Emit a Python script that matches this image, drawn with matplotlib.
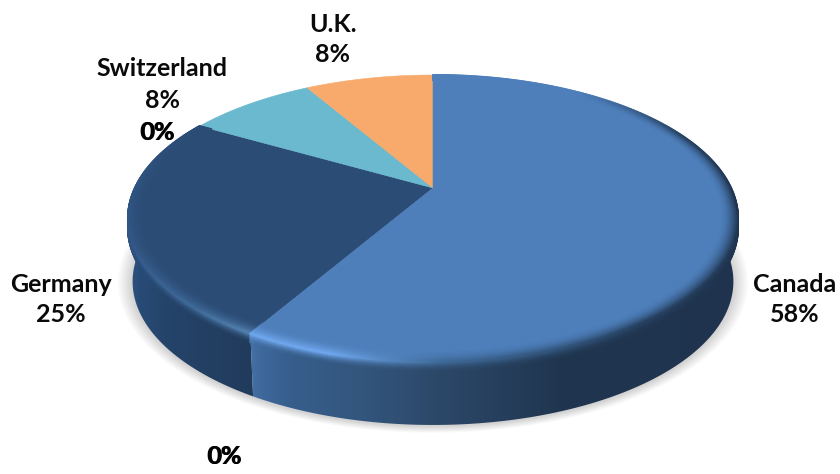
import numpy as np
import matplotlib
matplotlib.use('Agg')
import matplotlib.pyplot as plt
from matplotlib.collections import LineCollection
from matplotlib.colors import to_rgb
from matplotlib.patches import Polygon

plt.rcParams['font.family'] = ['Lato', 'DejaVu Sans']

# chart values
countries = ['Canada', 'Germany', 'Switzerland', 'U.K.']
shares = [58.33, 25.0, 8.33, 8.33]
empty_shares = [0, 0]

# slice styles
top_colors = ['#4e7fbb', '#2b4c75', '#6bb9ce', '#f7aa6c']

# pie projection, in pixels
CX, APEX_Y = 433, 188
R_X, R_Y, TILT = 298, 137, 0.2125
DEPTH, SHRINK = 63, 0.985


def rim(theta, r=1.0):
    # theta in degrees clockwise from 12 o'clock
    t = np.radians(theta)
    u, v = r * np.sin(t), r * np.cos(t)
    w = 1 + TILT * v
    return CX + R_X * u / w, APEX_Y - R_Y * v / w


def lower_rim(theta):
    x, y = rim(theta)
    return CX + (x - CX) * SHRINK, y + DEPTH


def mix(a, b, w):
    return a * (1 - w)[:, None] + b * w[:, None]


def hexes(cols):
    return np.array([to_rgb(c) for c in cols])


def interp_rgb(x, xs, cols):
    c = hexes(cols)
    return np.column_stack([np.interp(x, xs, c[:, i]) for i in range(3)])


# side wall shading runs left to right
wall_x = {
    0: ([250, 258, 290, 360, 450, 560, 740],
        ['#4572a8', '#3f6a9e', '#375e8c', '#33567d', '#2b4666', '#203650', '#1f334e']),
    1: ([128, 140, 165, 250, 258],
        ['#2f5586', '#284b76', '#25446a', '#213b5c', '#213a5a']),
}


def wall_rgb(i, x):
    return interp_rgb(x, *wall_x[i])


fig = plt.figure(figsize=(8.4, 4.74), dpi=100)
ax = fig.add_axes([0, 0, 1, 1])

ends = np.cumsum(shares) / np.sum(shares) * 360
starts = np.r_[0, ends[:-1]]

# soft ground shadow
th_all = np.linspace(0, 360, 361)
lx, ly = lower_rim(th_all)
for e in np.arange(1, 16, 1.0):
    sc = 1 + e / 300
    ax.add_patch(Polygon(np.column_stack([CX + (lx - CX) * sc, 285 + (ly - 285) * sc + 1]),
                         fc='k', ec='none', alpha=0.012, zorder=1))

# side walls of the two front slices
for i in (1, 0):
    th = np.linspace(starts[i], ends[i], 300)
    tx, ty = rim(th)
    bx, by = lower_rim(th)
    pts = np.column_stack([np.r_[tx, bx[::-1]], np.r_[ty, by[::-1]]])
    clip = Polygon(pts, fc='none', ec='none', transform=ax.transData)
    ax.add_patch(clip)
    xs = np.arange(840) + 0.5
    im = ax.imshow(wall_rgb(i, xs)[None, :, :], extent=(0, 840, 474, 0), aspect='auto',
                   interpolation='bilinear', zorder=2)
    im.set_clip_path(clip)

# top faces
for i in (1, 2, 3, 0):
    th = np.linspace(starts[i], ends[i], 300)
    x, y = rim(th)
    ax.add_patch(Polygon(np.column_stack([np.r_[CX, x], np.r_[APEX_Y, y]]),
                         fc=top_colors[i], ec=top_colors[i], lw=0.4, zorder=3))

# rounded bevel along the front rim: colour and strength by angle
bevel = {
    0: ([0, 35, 65, 95, 145, 178, 196, ends[0]],
        ['#1f3550', '#1f3550', '#1f3550', '#1f3550', '#26405f', '#3d6794', '#6ea6ec', '#6ea6ec'],
        [0, 0, 0.8, 1, 1, 1, 1, 1]),
    1: ([ends[0], 222, 250, 275, 292, ends[1]],
        ['#5480b0', '#3f6a99', '#34598a', '#33598a', '#2e5282', '#2b4c75'],
        [1, 1, 0.8, 0.5, 0.2, 0]),
}
for i in (1, 0):
    th = np.linspace(starts[i], ends[i], 500)
    mids = 0.5 * (th[:-1] + th[1:])
    bth, bcol, bw = bevel[i]
    edge = interp_rgb(mids, bth, bcol)
    strength = np.interp(mids, bth, bw)
    face = np.tile(np.array(to_rgb(top_colors[i])), (len(mids), 1))

    # on the face, outermost ring last
    for s in np.linspace(1, 0, 11):
        x, y = rim(th, 1 - 0.0055 * 10 * s)
        seg = np.stack([np.column_stack([x[:-1], y[:-1]]), np.column_stack([x[1:], y[1:]])], axis=1)
        cols = mix(face, edge, strength * (1 - s) ** 1.8)
        ax.add_collection(LineCollection(seg, colors=cols, linewidths=1.5, capstyle='round', zorder=4))

    # on the wall, just under the rim; the face hides whatever runs behind it
    for d in np.arange(9, 0, -1.0):
        x, y = rim(th)
        y = y + d
        xm = 0.5 * (x[:-1] + x[1:])
        seg = np.stack([np.column_stack([x[:-1], y[:-1]]), np.column_stack([x[1:], y[1:]])], axis=1)
        cols = mix(wall_rgb(i, xm), edge, strength * (1 - d / 10) ** 2)
        ax.add_collection(LineCollection(seg, colors=cols, linewidths=1.5, capstyle='round', zorder=2.5))

# data labels
LABEL_SIZE = 18
label_pos = [(795, 284, 314), (61, 284, 314), (162, 68, 100), (333, 24, 54)]
for name, val, (lx0, y1, y2) in zip(countries, shares, label_pos):
    ax.text(lx0, y1, name, ha='center', va='center', fontsize=LABEL_SIZE, fontweight='bold', color='#0a0a0a', zorder=6)
    ax.text(lx0, y2, f'{val:.0f}%', ha='center', va='center', fontsize=LABEL_SIZE, fontweight='bold', color='#0a0a0a', zorder=6)

# the empty categories print their labels on top of each other
for val, (zx, zy) in zip(empty_shares, [(157, 132), (224, 457)]):
    for off in (-0.4, 0.4):
        ax.text(zx + off, zy, f'{val}%', ha='center', va='center', fontsize=LABEL_SIZE,
                fontweight='bold', color='k', zorder=6)

ax.set_xlim(0, 840)
ax.set_ylim(474, 0)
ax.axis('off')
fig.savefig('out.png', dpi=100, facecolor='white')
